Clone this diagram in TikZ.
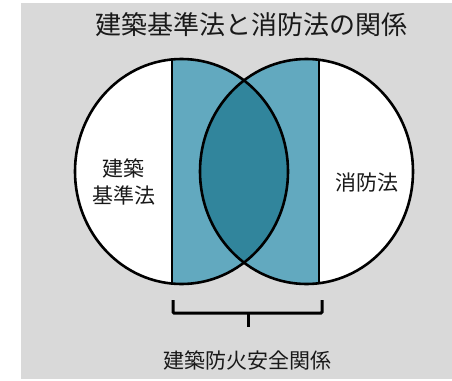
\documentclass[tikz,border=0pt]{standalone}
\usepackage{fontspec}
\setmainfont{Noto Sans CJK JP}
\definecolor{bgG}{HTML}{D9D9D9}
\definecolor{lightB}{HTML}{62A9BF}
\definecolor{darkB}{HTML}{31859C}
\begin{document}
\begin{tikzpicture}[x=1pt,y=-1pt,
  outline/.style={line width=2.6pt, draw=black},
  lbl/.style={inner sep=0pt, align=center, text=black!90},
  brace/.style={line width=3pt, draw=black, rounded corners=1pt}]
\useasboundingbox (0,0) rectangle (452,380);
\fill[bgG] (21,3) rectangle (452,379);
\def\Lell{(181.5,171.5) ellipse [x radius=106.5, y radius=112.5]}
\def\Rell{(306.5,171.5) ellipse [x radius=106.5, y radius=112.5]}
% fills
\fill[white] \Lell;
\fill[white] \Rell;
\begin{scope}
  \clip (172,0) rectangle (300,400);
  \fill[lightB] \Lell;
\end{scope}
\begin{scope}
  \clip (150,0) rectangle (319,400);
  \fill[lightB] \Rell;
\end{scope}
\begin{scope}
  \clip \Lell;
  \fill[darkB] \Rell;
\end{scope}
% chords
\begin{scope}
  \clip \Lell;
  \draw[outline] (172,0) -- (172,400);
\end{scope}
\begin{scope}
  \clip \Rell;
  \draw[outline] (319,0) -- (319,400);
\end{scope}
% outlines
\draw[outline] \Lell;
\draw[outline] \Rell;
% texts
\node[lbl, font=\fontsize{26}{30}\selectfont] (title) at (251.5,25) {建築基準法と消防法の関係};
\node[lbl, font=\fontsize{21}{27}\selectfont] (kijun) at (123.5,181.5) {建築\\基準法};
\node[lbl, font=\fontsize{21}{27}\selectfont] (shobo) at (366.5,183) {消防法};
\node[lbl, font=\fontsize{21}{27}\selectfont] (anzen) at (247,360) {建築防火安全関係};
% brace
\coordinate (bl) at (173,300);
\coordinate (br) at (322,300);
\coordinate (bm) at (248,313);
\coordinate (bt) at (248,327);
\draw[brace] (bl) -- (bl |- bm) -- (br |- bm) -- (br);
\draw[line width=3pt] (bm) -- (bt);
\end{tikzpicture}
\end{document}
